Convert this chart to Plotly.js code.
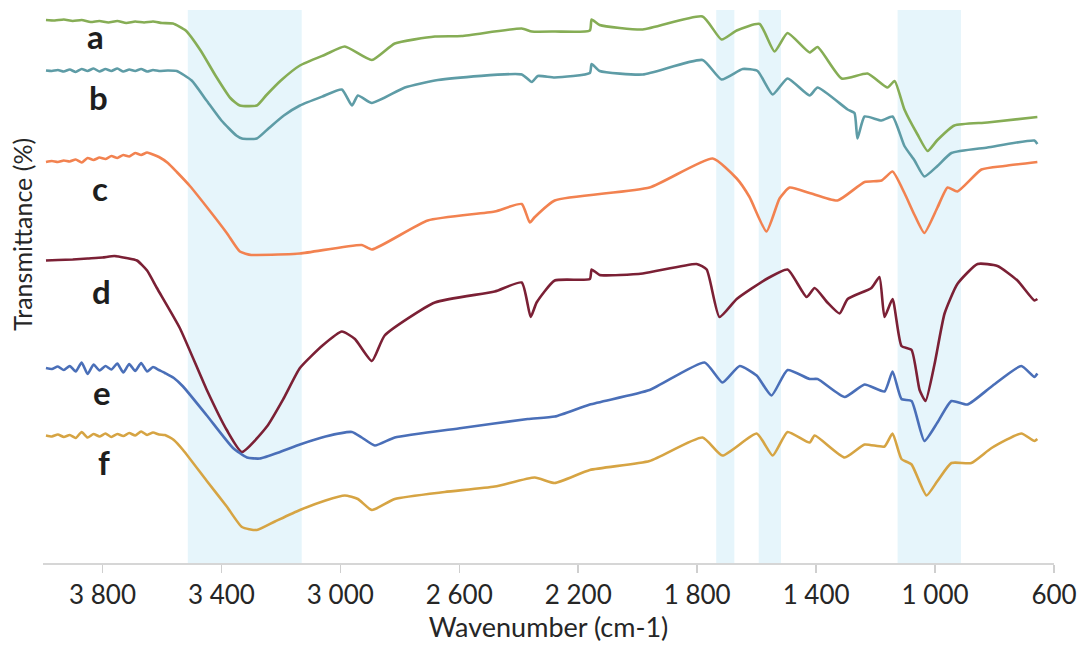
<!DOCTYPE html>
<html>
<head>
<meta charset="utf-8">
<script src="https://cdn.plot.ly/plotly-3.0.1.min.js"></script>
<style>html,body{margin:0;padding:0;background:#fff;}#chart{width:1079px;height:652px;}</style>
</head>
<body>
<div id="chart"></div>
<script>
// Wavenumber (cm-1) and transmittance (arbitrary offset units)
const wnA = [3990,3960,3930,3900,3870,3840,3810,3780,3750,3720,3690,3660,3630,3600,3563,3520,3470,3420,3370,3338,3281,3250,3200,3136,3050,2985,2894,2817,2682,2592,2390,2356,2279,2161,2155,2128,1983,1782,1718,1667,1590,1540,1496,1422,1395,1314,1227,1160,1136,1103,1059,1025,992,935,824,656];
const tA  = [108.6,108.5,108.7,108.4,108.6,108.2,108.4,108.1,108.4,108.0,108.3,108.1,108.3,108.0,107.9,106.5,102.5,97.5,93.0,91.5,91.5,93.5,96.5,99.5,101.7,103.3,100.6,103.9,105.3,105.4,106.9,106.3,106.3,106.5,108.7,107.6,106.7,109.3,104.7,106.5,107.8,102.3,106.0,102.1,103.2,96.9,97.9,95.1,96.4,90.7,85.7,82.4,84.6,87.5,88.1,89.2];

const wnB = [3990,3970,3950,3930,3910,3890,3870,3850,3830,3810,3790,3770,3750,3730,3710,3690,3670,3650,3630,3610,3580,3550,3500,3450,3400,3350,3331,3281,3240,3190,3136,3060,2995,2961,2941,2894,2783,2672,2390,2356,2336,2279,2161,2155,2128,1983,1782,1718,1647,1597,1546,1496,1422,1395,1294,1271,1261,1237,1180,1143,1103,1069,1036,992,945,824,666,656];
const tB  = [98.5,98.4,98.6,98.3,98.7,98.2,98.8,98.4,98.9,98.3,98.8,98.4,98.9,98.3,98.7,98.4,98.8,98.3,98.6,98.4,98.5,98.4,96.5,92.5,88.5,85.5,84.9,84.9,87.0,89.5,91.5,93.3,94.7,91.5,93.5,92.0,95.1,96.6,97.7,96.2,97.4,97.1,98.0,99.8,98.4,97.7,100.6,96.7,98.8,98.4,93.7,96.9,93.5,95.1,90.7,90.0,84.9,89.3,88.5,89.3,83.4,80.5,77.3,79.4,82.0,83.1,84.5,83.8];

const wnC = [3990,3970,3950,3930,3910,3890,3870,3850,3830,3810,3790,3770,3750,3730,3710,3690,3670,3650,3630,3610,3580,3550,3506,3440,3382,3338,3300,3281,3136,2928,2894,2706,2481,2390,2363,2346,2279,1960,1748,1667,1624,1567,1523,1489,1422,1328,1237,1180,1143,1103,1069,1036,992,958,925,844,767,656];
const tC  = [80.2,80.4,80.2,80.5,80.3,80.7,80.1,81.0,80.6,81.1,80.8,81.4,81.0,81.6,81.3,82.0,81.6,82.1,81.7,81.2,80.0,78.2,75.4,70.5,66.0,62.3,61.6,61.6,61.9,63.6,62.7,68.5,70.3,71.8,68.1,69.2,72.5,75.1,80.9,76.9,73.2,66.3,72.9,75.1,74.0,72.5,76.2,76.5,78.3,74.0,69.6,66.0,71.1,75.1,74.3,78.7,79.4,80.2];

const wnD = [3990,3950,3900,3850,3800,3760,3720,3684,3650,3617,3540,3449,3382,3331,3247,3190,3136,3060,2995,2951,2894,2851,2682,2481,2390,2360,2340,2279,2161,2155,2128,1983,1802,1768,1725,1667,1567,1496,1432,1405,1362,1321,1294,1214,1187,1170,1143,1113,1079,1052,1032,1002,968,925,857,790,723,666,656];
const tD  = [60.5,60.6,60.7,60.9,61.1,61.4,61.0,60.5,58.5,55.0,47.0,34.6,26.6,22.2,27.3,33.0,39.0,43.5,46.3,44.8,40.4,45.5,52.1,54.3,56.1,49.2,52.1,56.5,56.8,58.7,57.6,57.9,59.8,58.7,49.2,52.8,56.8,58.7,53.2,55.0,52.1,49.9,52.8,55.0,57.2,49.2,52.8,43.4,42.6,34.6,32.4,39.7,49.9,55.8,59.8,59.4,56.5,52.5,52.8];

const wnE = [3990,3970,3950,3930,3910,3890,3870,3850,3830,3810,3790,3770,3750,3730,3710,3690,3670,3650,3630,3610,3590,3560,3529,3449,3361,3314,3271,3203,3136,3050,2961,2928,2884,2817,2592,2370,2279,2161,1960,1775,1715,1657,1600,1550,1496,1422,1395,1304,1237,1170,1143,1113,1079,1036,992,945,891,810,710,666,656];
const tE  = [39.0,38.8,39.3,38.6,39.4,38.3,40.1,37.8,39.7,38.5,39.4,38.7,39.9,38.1,39.8,38.4,40.0,38.3,39.2,38.6,38.0,37.0,35.3,29.5,23.0,21.1,20.9,22.2,23.7,25.3,26.2,25.1,23.5,25.1,27.0,28.8,29.3,31.7,34.6,40.1,36.1,39.4,37.5,33.5,38.6,36.8,36.8,33.2,35.7,34.3,38.3,32.8,32.4,24.4,28.1,32.4,31.7,35.3,39.4,37.2,37.9];

const wnF = [3990,3970,3950,3930,3910,3890,3870,3850,3830,3810,3790,3770,3750,3730,3710,3690,3670,3650,3630,3610,3590,3560,3529,3449,3382,3331,3281,3220,3136,3050,2985,2941,2894,2817,2649,2481,2346,2279,2161,1960,1782,1715,1600,1546,1496,1422,1405,1304,1237,1170,1143,1113,1079,1029,992,945,878,810,710,666,656];
const tF  = [25.5,25.3,25.7,25.2,25.6,25.0,26.2,25.1,25.8,25.3,25.9,25.2,25.8,25.4,26.0,25.5,26.3,25.6,26.1,25.7,25.6,24.6,22.6,16.4,11.3,7.2,6.6,8.3,10.6,12.5,13.5,12.8,10.6,12.8,14.2,15.3,17.1,16.0,18.6,20.4,25.1,21.5,25.9,21.5,26.2,24.1,25.5,21.1,23.7,23.3,25.9,20.8,19.7,13.5,16.4,20.0,20.0,23.0,25.9,24.4,24.8];

const seriesNames = ['a','b','c','d','e','f'];
const seriesX = [wnA, wnB, wnC, wnD, wnE, wnF];
const seriesY = [tA, tB, tC, tD, tE, tF];
const seriesColors = ['#86ad55','#5e9ca6','#f28250','#7b2035','#4a6fb8','#d6a443'];

// Label positions (wavenumber, transmittance)
const labelX = [3825, 3815, 3808, 3802, 3802, 3795];
const labelY = [105.4, 93.2, 75.0, 54.4, 34.2, 20.2];

// Highlighted absorption bands (start, end wavenumber)
const bandStart = [3513, 1736, 1593, 1126];
const bandEnd   = [3130, 1675, 1518, 913];

const tickVals = [3800, 3400, 3000, 2600, 2200, 1800, 1400, 1000, 600];
const tickText = ['3 800','3 400','3 000','2 600','2 200','1 800','1 400','1 000','600'];

const traces = seriesNames.map((n, i) => ({
  type: 'scatter', mode: 'lines', name: n,
  x: seriesX[i], y: seriesY[i],
  line: {color: seriesColors[i], width: 2.6, shape: 'spline', smoothing: 0.5},
  hoverinfo: 'skip'
}));

const shapes = bandStart.map((s, i) => ({
  type: 'rect', xref: 'x', yref: 'paper', x0: s, x1: bandEnd[i], y0: 0, y1: 1,
  fillcolor: '#e6f5fb', line: {width: 0}, layer: 'below'
}));

const annotations = seriesNames.map((n, i) => ({
  x: labelX[i], y: labelY[i], xref: 'x', yref: 'y', text: n, showarrow: false,
  xanchor: 'center', yanchor: 'middle',
  font: {family: 'Lato, "Open Sans", sans-serif', size: 33, color: '#1e1e1e', weight: 'bold'}
}));
annotations.push({
  xref: 'paper', yref: 'paper', x: -0.021, y: 0.595, text: 'Transmittance (%)',
  textangle: -90, showarrow: false, xanchor: 'center', yanchor: 'middle',
  font: {family: 'Lato, "Open Sans", sans-serif', size: 25, color: '#262626'}
});

const layout = {
  width: 1079, height: 652,
  margin: {l: 43, r: 25, t: 10, b: 89},
  paper_bgcolor: '#ffffff', plot_bgcolor: '#ffffff',
  showlegend: false,
  font: {family: 'Lato, "Open Sans", sans-serif', color: '#262626'},
  xaxis: {
    range: [4000, 600], tickmode: 'array', tickvals: tickVals, ticktext: tickText,
    ticks: 'outside', ticklen: 8, tickwidth: 1.5, tickcolor: '#cfcfcf',
    showline: true, linecolor: '#d6d6d6', linewidth: 2,
    showgrid: false, zeroline: false,
    tickfont: {size: 26, color: '#262626'},
    title: {text: 'Wavenumber (cm-1)', font: {size: 27, color: '#262626'}, standoff: 8}
  },
  yaxis: {
    range: [0, 110.6], showticklabels: false, ticks: '', showgrid: false,
    zeroline: false, showline: false
  },
  shapes: shapes,
  annotations: annotations
};

Plotly.newPlot('chart', traces, layout, {displayModeBar: false, staticPlot: true});
</script>
</body>
</html>
